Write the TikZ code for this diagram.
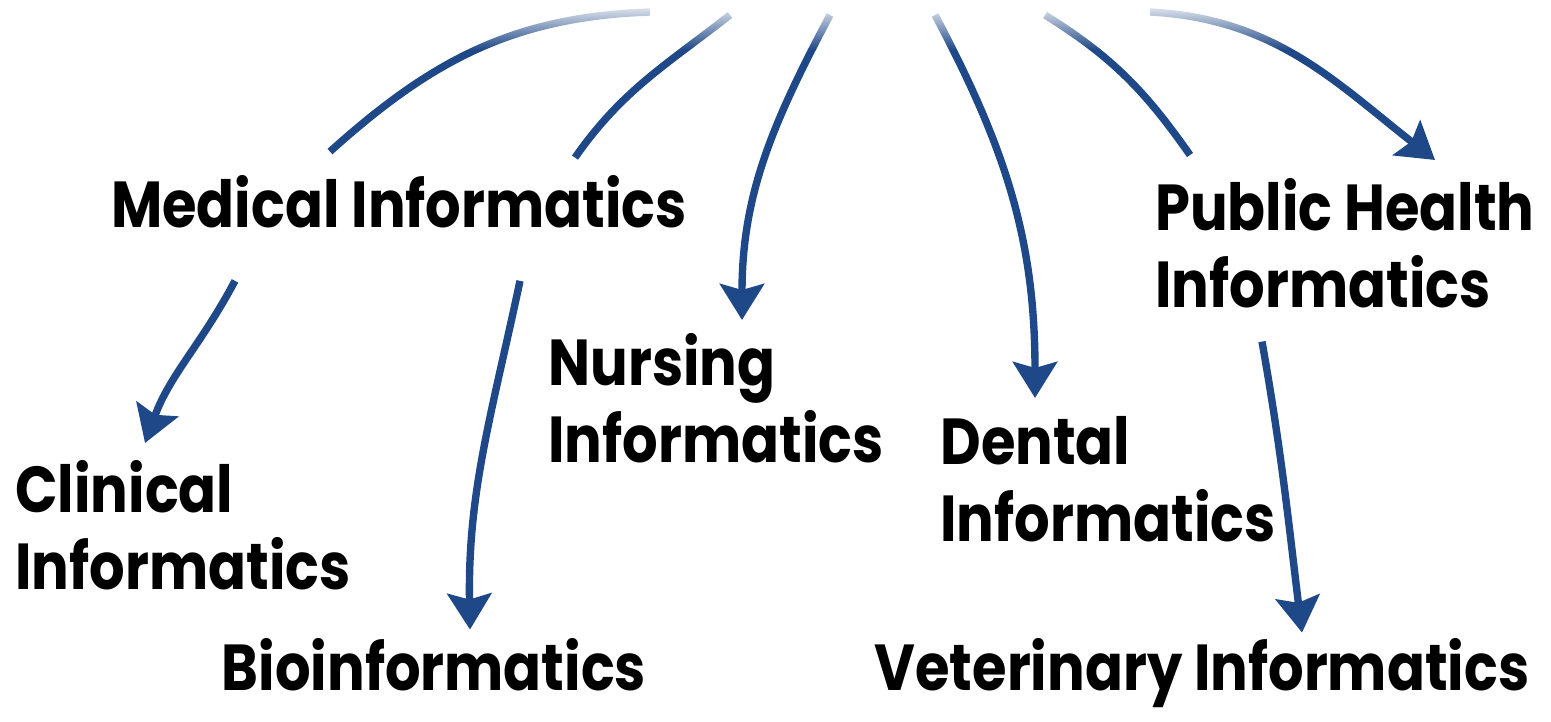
\documentclass[tikz,border=0pt]{standalone}
\usepackage{fontspec}
\setmainfont{Poppins}[FakeStretch=0.86]
\usetikzlibrary{arrows.meta, fadings}

\definecolor{linkblue}{RGB}{30,72,135}
\tikzfading[name=topfade, top color=transparent!0, bottom color=transparent!100]

\begin{document}
\begin{tikzpicture}[x=0.02cm, y=-0.02cm, >=Stealth,
	field/.style={inner sep=0pt, align=left, font=\bfseries\fontsize{37}{44}\selectfont},
	link/.style={draw=linkblue, line width=4.2pt},
	tiplink/.style={link, -{Stealth[length=0.72cm, width=0.88cm, inset=0.12cm]}}]
	% --- 1. SETUP ---
	\useasboundingbox (0,0) rectangle (1551,722);
	
	% Top sources (they fade out)
	\coordinate (s1) at (650,12);
	\coordinate (s2) at (730,15);
	\coordinate (s3) at (830,15);
	\coordinate (s4) at (935,15);
	\coordinate (s5) at (1045,15);
	\coordinate (s6) at (1150,12);
	
	% --- 2. FIELDS ---
	\node[field, anchor=base] (med) at (399,228) {Medical Informatics};
	\node[field, anchor=north west] (pub) at (1155,178) {Public Health\\Informatics};
	\node[field, anchor=north west] (nurs) at (548,333) {Nursing\\Informatics};
	\node[field, anchor=north west] (dent) at (940,416) {Dental\\Informatics};
	\node[field, anchor=north west] (clin) at (15,460) {Clinical\\Informatics};
	\node[field, anchor=base] (bio) at (434,690) {Bioinformatics};
	\node[field, anchor=base] (vet) at (1202,690) {Veterinary Informatics};
	
	% --- 3. ARROWS FROM THE TOP ---
	\draw[link] (s1) to[out=182, in=42] ([shift={(-69,-24)}]med.north);
	\draw[link] (s2) to[out=218, in=55] ([shift={(176,-18)}]med.north);
	\draw[tiplink] (s3) to[out=242, in=90] ([shift={(194,-13)}]nurs.north west);
	\draw[tiplink] (s4) to[out=-62, in=90] ([shift={(95,-18)}]dent.north west);
	\draw[link] (s5) to[out=-32, in=125] ([shift={(35,-23)}]pub.north west);
	\draw[tiplink] (s6) to[out=-3, in=142] ([shift={(280,-18)}]pub.north west);
	
	% --- 4. ARROWS BETWEEN FIELDS ---
	\draw[tiplink] ([shift={(-164,52)}]med.south) to[out=242, in=70] ([shift={(130,-17)}]clin.north west);
	\draw[tiplink] ([shift={(121,52)}]med.south) to[out=258, in=91] ([shift={(36,-8)}]bio.north);
	\draw[tiplink] ([shift={(107,33)}]pub.south west) to[out=-80, in=97] ([shift={(100,-5)}]vet.north);
	
	% Fade the arrow tails at the top
	\fill[white, path fading=topfade] (0,0) rectangle (1551,50);
\end{tikzpicture}
\end{document}
